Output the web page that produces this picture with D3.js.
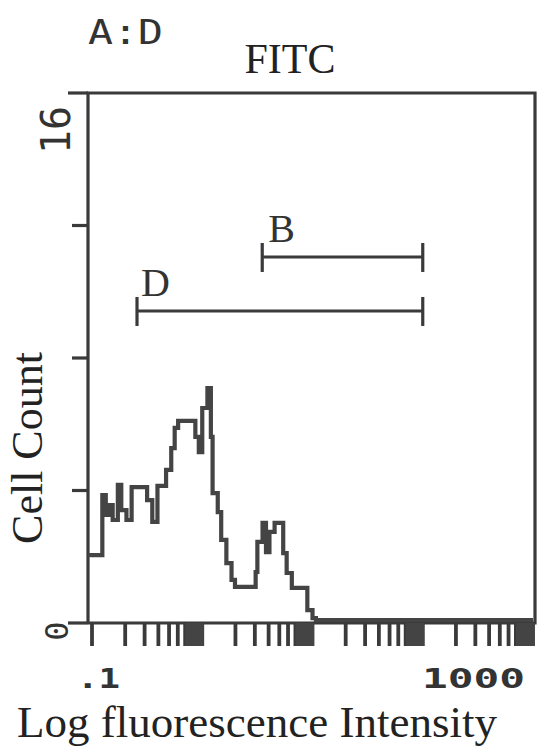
<!DOCTYPE html>
<html>
<head>
<meta charset="utf-8">
<script src="https://cdn.jsdelivr.net/npm/d3@7/dist/d3.min.js"></script>
<style>
  html, body { margin: 0; padding: 0; background: #fff; }
  svg { display: block; }
</style>
</head>
<body>
<svg id="chart" width="537" height="749"></svg>
<script>
// ---------- data ----------
// histogram bins: start channel (256 channels over 4 log decades) and cell count
const channelEdges = [0,6,8,10,12,15,17,20,23,32,35,38,43,46,48,50,60,62,64,67,69,70,73,75,78,81,83,95,96,99,101,103,106,111,113,116,125,128,130];
const cellCounts   = [2.05,3.86,3.26,3.56,3.11,4.17,3.41,3.11,4.1,3.71,3.05,4.14,4.62,5.28,5.89,6.1,5.62,5.16,6.49,7.09,5.62,3.92,3.35,2.51,1.81,1.3,1.09,1.54,2.45,3.02,2.14,2.75,3.02,2.11,1.51,1.06,0.39,0.15,0.09];
const channelMax = 256;
const decadeStarts = [0.1, 1, 10, 100];
const xTickLabelValues = [0.1, 1000];
const xTickLabels = [".1", "1000"];
const yTickValues = [0, 4, 8, 12, 16];
const yTickLabelValues = [0, 16];
const yTickLabels = ["0", "16"];
const gateNames = ["D", "B"];
const gateStart = [0.256, 3.5];
const gateEnd = [100, 100];
const gateLevel = [9.42, 11.05];

// ---------- layout ----------
const frame = {left: 88, right: 535, top: 93, bottom: 623};
const ink = "#3a3a3a";
const svg = d3.select("#chart");

const x = d3.scaleLog().domain([0.1, 1000]).range([92, 533]);
const y = d3.scaleLinear().domain([0, 16]).range([frame.bottom, frame.top]);
const chanToValue = c => 0.1 * Math.pow(10, c * 4 / channelMax);

// frame
svg.append("path")
  .attr("d", `M${frame.left},${frame.bottom}V${frame.top}H${frame.right}V${frame.bottom}H${frame.left}`)
  .attr("fill", "none").attr("stroke", ink).attr("stroke-width", 3.2);

// y ticks
svg.selectAll(".ytick").data(yTickValues).enter().append("line")
  .attr("x1", d => (d === 0 || d === 16) ? 68 : 72).attr("x2", frame.left)
  .attr("y1", d => y(d)).attr("y2", d => y(d))
  .attr("stroke", ink).attr("stroke-width", 3.2);

// y tick labels (rotated)
svg.selectAll(".ylab").data(yTickLabelValues).enter().append("text")
  .attr("transform", d => `translate(${d === 16 ? 70 : 68},${y(d) + (d === 16 ? 37 : 8)}) rotate(-90)`)
  .attr("text-anchor", "middle")
  .attr("font-family", "DejaVu Sans Mono")
  .attr("font-size", d => d === 16 ? 40 : 32)
  .attr("fill", "#333")
  .text((d, i) => yTickLabels[i]);

// x ticks
const minorVals = [];
decadeStarts.forEach(d => { for (let m = 1; m <= 9; m++) minorVals.push(m * d); });
minorVals.push(1000);
svg.selectAll(".xtick").data(minorVals).enter().append("line")
  .attr("x1", d => x(d)).attr("x2", d => x(d))
  .attr("y1", frame.bottom).attr("y2", 646)
  .attr("stroke", ink).attr("stroke-width", 3.8);
svg.selectAll(".xblock").data(decadeStarts).enter().append("rect")
  .attr("x", d => x(7 * d)).attr("width", d => x(10 * d) - x(7 * d) + 1.5)
  .attr("y", frame.bottom).attr("height", 646 - frame.bottom)
  .attr("fill", "#444");

// x tick labels
svg.selectAll(".xlab").data(xTickLabelValues).enter().append("text")
  .attr("x", (d, i) => i === 0 ? x(d) - 15 : x(d) - 111)
  .attr("y", 688)
  .attr("font-family", "DejaVu Sans Mono")
  .attr("font-weight", "bold")
  .attr("font-size", 27)
  .attr("fill", "#333")
  .attr("textLength", (d, i) => i === 0 ? 43 : 103)
  .attr("lengthAdjust", "spacingAndGlyphs")
  .text((d, i) => xTickLabels[i]);

// histogram
const pts = channelEdges.map((c, i) => [chanToValue(c), cellCounts[i]]);
pts.push([chanToValue(channelMax), cellCounts[cellCounts.length - 1]]);
const stepLine = d3.line().x(d => x(d[0])).y(d => y(d[1])).curve(d3.curveStepAfter);
svg.append("line")
  .attr("x1", frame.left).attr("x2", x(pts[0][0]) + 1)
  .attr("y1", y(pts[0][1])).attr("y2", y(pts[0][1]))
  .attr("stroke", "#444").attr("stroke-width", 4.2);
svg.append("path")
  .attr("d", stepLine(pts))
  .attr("fill", "none").attr("stroke", "#444").attr("stroke-width", 4.2)
  .attr("stroke-linejoin", "miter");

// gates
gateNames.forEach((name, i) => {
  const g = svg.append("g");
  const yy = y(gateLevel[i]);
  g.append("line").attr("x1", x(gateStart[i])).attr("x2", x(gateEnd[i]))
    .attr("y1", yy).attr("y2", yy).attr("stroke", ink).attr("stroke-width", 3);
  [gateStart[i], gateEnd[i]].forEach(v => {
    g.append("line").attr("x1", x(v)).attr("x2", x(v))
      .attr("y1", yy - 14).attr("y2", yy + 15)
      .attr("stroke", ink).attr("stroke-width", 3.2);
  });
  g.append("text")
    .attr("x", x(gateStart[i]) + (i === 0 ? 4 : 6))
    .attr("y", yy - 15)
    .attr("font-family", "Liberation Serif")
    .attr("font-size", 40)
    .attr("fill", "#333")
    .text(name);
});

// titles
svg.append("text").attr("x", 88).attr("y", 44)
  .attr("font-family", "DejaVu Sans Mono")
  .attr("font-size", 33).attr("fill", "#333")
  .attr("textLength", 75).attr("lengthAdjust", "spacingAndGlyphs")
  .text("A:D");
svg.append("text").attr("x", 290).attr("y", 73)
  .attr("text-anchor", "middle")
  .attr("font-family", "Liberation Serif").attr("font-size", 42).attr("fill", "#222")
  .text("FITC");
svg.append("text")
  .attr("transform", "translate(42,448) rotate(-90)")
  .attr("text-anchor", "middle")
  .attr("font-family", "Liberation Serif").attr("font-size", 44).attr("fill", "#222")
  .text("Cell Count");
svg.append("text").attr("x", 257).attr("y", 737)
  .attr("text-anchor", "middle")
  .attr("font-family", "Liberation Serif").attr("font-size", 45).attr("fill", "#222")
  .text("Log fluorescence Intensity");
</script>
</body>
</html>
